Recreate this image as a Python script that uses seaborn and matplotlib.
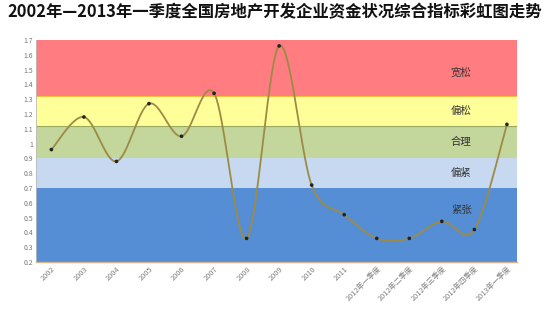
import numpy as np
import matplotlib
matplotlib.use("Agg")
import matplotlib.pyplot as plt
import seaborn as sns
import pandas as pd

categories = ["2002", "2003", "2004", "2005", "2006", "2007", "2008", "2009", "2010", "2011",
              "2012年一季度", "2012年二季度", "2012年三季度", "2012年四季度", "2013年一季度"]
values = [0.96, 1.18, 0.88, 1.27, 1.05, 1.34, 0.36, 1.66, 0.72, 0.52,
          0.36, 0.36, 0.475, 0.42, 1.13]
band_edges = [0.2, 0.7, 0.9, 1.12, 1.32, 1.7]
band_names = ["紧张", "偏紧", "合理", "偏松", "宽松"]
band_colors = ["#558ED5", "#C6D9F1", "#C3D69B", "#FFFF99", "#FF7C80"]
yticks = [round(0.2 + 0.1 * i, 1) for i in range(16)]
title = "2002年—2013年一季度全国房地产开发企业资金状况综合指标彩虹图走势"

sns.set_theme(style="white")
plt.rcParams['font.family'] = ['Noto Sans CJK SC', 'DejaVu Sans']

df = pd.DataFrame({"cat": categories, "val": values, "x": np.arange(len(categories))})

fig = plt.figure(figsize=(5.5, 3.15), dpi=100)
ax = fig.add_axes([0.065, 0.168, 0.875, 0.705])

# bands
for i in range(len(band_names)):
    ax.axhspan(band_edges[i], band_edges[i + 1], color=band_colors[i], lw=0, zorder=0)
    lo, hi = band_edges[i], band_edges[i + 1]
    ly = hi - 0.15 if i == 0 else (lo + hi) / 2 - (0.03 if i == len(band_names) - 1 else 0)
    ax.text(12.6, ly, band_names[i], ha="center", va="center", fontsize=7.5,
            color="#333333", zorder=3)
ax.axhline(1.32, color="#F0C040", lw=0.8, zorder=1)
ax.axhline(1.12, color="#9AAA60", lw=0.8, zorder=1)

# smooth curve (Excel-like Bezier / Catmull-Rom)
xs = df["x"].to_numpy(float)
ys = df["val"].to_numpy(float)
px = np.concatenate([[xs[0]], xs, [xs[-1]]])
py = np.concatenate([[ys[0]], ys, [ys[-1]]])
cx, cy = [], []
t = np.linspace(0, 1, 40)
for i in range(1, len(px) - 2):
    p0 = np.array([px[i], py[i]])
    p3 = np.array([px[i + 1], py[i + 1]])
    p1 = p0 + (np.array([px[i + 1], py[i + 1]]) - np.array([px[i - 1], py[i - 1]])) / 6
    p2 = p3 - (np.array([px[i + 2], py[i + 2]]) - np.array([px[i], py[i]])) / 6
    b = ((1 - t) ** 3)[:, None] * p0 + (3 * (1 - t) ** 2 * t)[:, None] * p1 + \
        (3 * (1 - t) * t ** 2)[:, None] * p2 + (t ** 3)[:, None] * p3
    cx.extend(b[:, 0]); cy.extend(b[:, 1])
ax.plot(cx, cy, color="#9D8B45", lw=1.3, zorder=4)
sns.scatterplot(data=df, x="x", y="val", ax=ax, color="#222222", s=7,
                edgecolor="none", zorder=5, legend=False)

ax.set_xlim(-0.48, 14.31)
ax.set_ylim(0.2, 1.7)
ax.set_yticks(yticks)
ax.set_yticklabels([f"{v:g}" for v in yticks], fontsize=5, color="#777777")
ax.set_xticks(range(len(categories)))
ax.set_xticklabels(categories, rotation=45, ha="right", rotation_mode="anchor",
                   fontsize=5.3, color="#808080")
ax.tick_params(axis="both", length=0, pad=2)
ax.set_xlabel("")
ax.set_ylabel("")
for s in ["top", "right"]:
    ax.spines[s].set_visible(False)
ax.spines["left"].set_color("#BBBBBB")
ax.spines["left"].set_linewidth(0.6)
ax.spines["bottom"].set_color("#D9B08C")
ax.spines["bottom"].set_linewidth(1.0)

fig.text(0.5, 0.962, title, ha="center", va="center", fontsize=11.8,
         fontweight="bold", color="#111111")

fig.savefig("out.png", dpi=100)
